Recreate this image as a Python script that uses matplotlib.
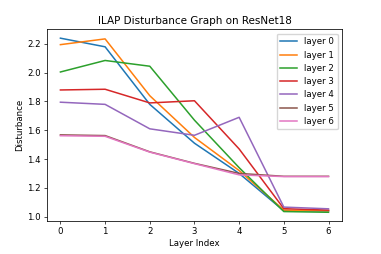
import matplotlib
matplotlib.use("Agg")
import matplotlib.pyplot as plt

layers = [0, 1, 2, 3, 4, 5, 6]
layer0 = [2.24, 2.18, 1.78, 1.51, 1.30, 1.04, 1.04]
layer1 = [2.195, 2.235, 1.84, 1.55, 1.32, 1.045, 1.04]
layer2 = [2.005, 2.085, 2.045, 1.67, 1.34, 1.035, 1.03]
layer3 = [1.88, 1.885, 1.79, 1.805, 1.47, 1.055, 1.045]
layer4 = [1.795, 1.78, 1.61, 1.565, 1.69, 1.066, 1.054]
layer5 = [1.568, 1.563, 1.45, 1.37, 1.30, 1.28, 1.28]
layer6 = [1.562, 1.558, 1.448, 1.368, 1.29, 1.278, 1.278]
series = [layer0, layer1, layer2, layer3, layer4, layer5, layer6]

scale = 0.62
plt.rcParams['font.size'] = 10 * scale
plt.rcParams['axes.linewidth'] = 0.9 * scale
plt.rcParams['xtick.major.size'] = 3.5 * scale
plt.rcParams['ytick.major.size'] = 3.5 * scale
plt.rcParams['xtick.major.width'] = 0.8 * scale
plt.rcParams['ytick.major.width'] = 0.8 * scale
plt.rcParams['xtick.major.pad'] = 3.5 * scale
plt.rcParams['ytick.major.pad'] = 3.5 * scale
plt.rcParams['axes.labelpad'] = 4 * scale
plt.rcParams['axes.titlepad'] = 6 * scale
plt.rcParams['legend.fontsize'] = 10 * scale

fig = plt.figure(figsize=(3.81, 2.54), dpi=100)
ax = fig.add_axes([0.1234, 0.130, 0.774, 0.754])
for i, s in enumerate(series):
    ax.plot(layers, s, label='layer %d' % i, linewidth=1.1)
ax.set_title('ILAP Disturbance Graph on ResNet18', fontsize=12 * scale)
ax.set_xlabel('Layer Index')
ax.set_ylabel('Disturbance')
ax.legend()
fig.savefig('out.png')
